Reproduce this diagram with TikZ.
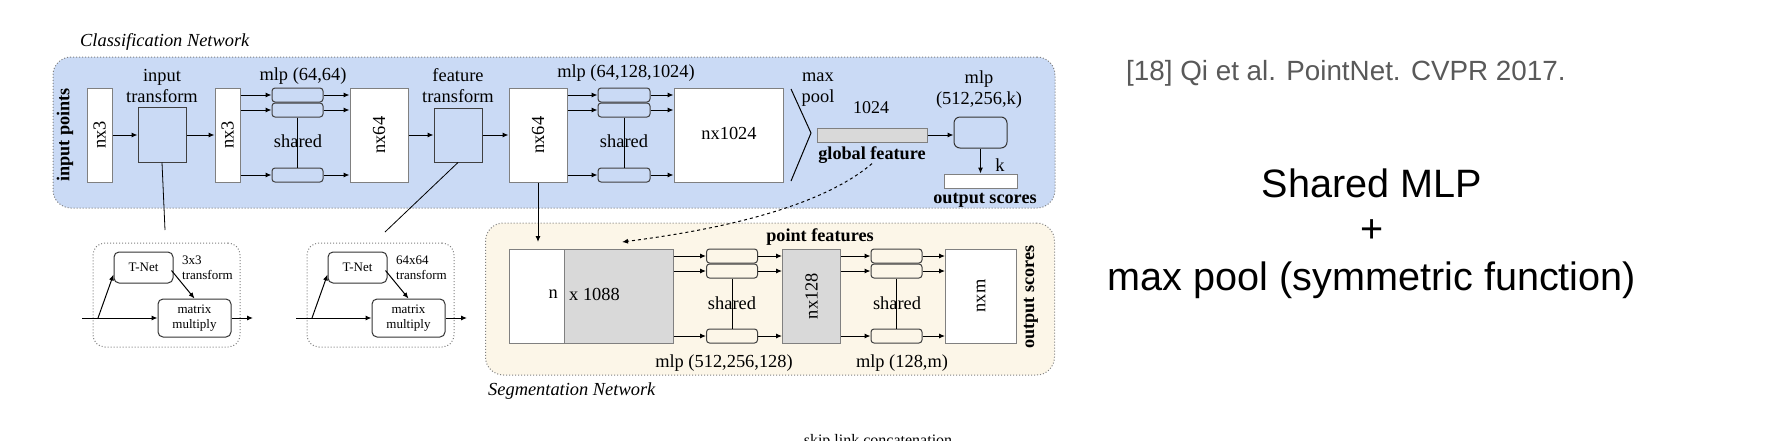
\documentclass[tikz,border=0pt]{standalone}
\usepackage{fontspec}
\setmainfont{Liberation Serif}
\newfontfamily\arialf{Liberation Sans}
\usetikzlibrary{arrows.meta,calc}
\definecolor{bgblue}{RGB}{202,218,245}
\definecolor{bgcream}{RGB}{252,246,232}
\definecolor{boxgray}{RGB}{217,217,217}
\definecolor{edgegray}{RGB}{128,128,128}
\definecolor{refgray}{RGB}{89,89,89}
\tikzset{
  fN/.style={font=\fontsize{18.4}{21}\selectfont},
  fB/.style={font=\fontsize{18.2}{21}\selectfont\bfseries},
  fS/.style={font=\fontsize{13}{14.5}\selectfont},
  lbl/.style={inner sep=0pt, fN, align=center},
  blbl/.style={inner sep=0pt, fB},
  panel/.style={draw=edgegray, dotted, line width=1pt, rounded corners=18pt, inner sep=0pt},
  blk/.style={draw=edgegray, line width=1pt, inner sep=0pt, fill=white},
  tbox/.style={draw=black!75, line width=1pt, inner sep=0pt, fill=bgblue},
  sbox/.style={draw=black!75, line width=1pt, rounded corners=3pt, inner sep=0pt, minimum height=14pt},
  rbox/.style={draw=black!80, line width=1pt, rounded corners=5pt, inner sep=0pt, fill=white, fS, align=center},
  arr/.style={-{Latex[length=6pt,width=5pt]}, line width=1pt},
  ln/.style={line width=1pt},
  bigtxt/.style={font=\arialf\fontsize{39.6}{44}\selectfont, inner sep=0pt},
}
\begin{document}
\begin{tikzpicture}[x=1pt,y=-1pt]
\useasboundingbox (0,0) rectangle (1788,440);

% ---------- Classification network ----------
\node[panel, fill=bgblue, minimum width=1002pt, minimum height=151pt] (cls) at (554,132.5) {};
\node[lbl, anchor=west, font=\fontsize{18.4}{21}\selectfont\itshape] (clstitle) at (80,42) {Classification Network};
\node[blbl, rotate=90] (inpts) at (65,135) {input points};

\node[blk, minimum width=25pt, minimum height=94pt] (n1) at (99.5,135) {};
\node[lbl, rotate=90] at (n1) {nx3};
\node[tbox, minimum width=48pt, minimum height=55pt] (it) at (162,134.5) {};
\node[lbl] (itlab) at (162,86) {input\\transform};
\node[blk, minimum width=25pt, minimum height=94pt] (n2) at (227.5,135) {};
\node[lbl, rotate=90] at (n2) {nx3};

\node[sbox, fill=bgblue, minimum width=51pt] (m1a) at (297.5,95) {};
\node[sbox, fill=bgblue, minimum width=51pt] (m1b) at (297.5,110) {};
\node[sbox, fill=bgblue, minimum width=51pt] (m1c) at (297.5,175) {};
\draw[ln] (m1b.south) -- (m1c.north);
\node[lbl] (sh1) at (298,141) {shared};
\node[lbl] (mlp1) at (303,76) {mlp (64,64)};

\node[blk, minimum width=58pt, minimum height=94pt] (n3) at (379,135) {};
\node[lbl, rotate=90] at (n3) {nx64};
\node[tbox, minimum width=48pt, minimum height=54pt] (ft) at (458,135) {};
\node[lbl] (ftlab) at (458,86) {feature\\transform};
\node[blk, minimum width=58pt, minimum height=94pt] (n4) at (538,135) {};
\node[lbl, rotate=90] at (n4) {nx64};

\node[sbox, fill=bgblue, minimum width=52pt] (m2a) at (624,95) {};
\node[sbox, fill=bgblue, minimum width=52pt] (m2b) at (624,110) {};
\node[sbox, fill=bgblue, minimum width=52pt] (m2c) at (624,175) {};
\draw[ln] (m2b.south) -- (m2c.north);
\node[lbl] (sh2) at (624,141) {shared};
\node[lbl] (mlp2) at (626,73) {mlp (64,128,1024)};

\node[blk, minimum width=109pt, minimum height=94pt] (n5) at (728.5,135) {};
\node[lbl] at (729,133) {nx1024};

\draw[ln] (791,89) -- (811,133) -- (791,181);
\node[lbl] (mplab) at (818,90) {max\\pool};
\node[lbl, font=\fontsize{18}{20}\selectfont] (dim) at (871,108) {1024};
\node[blk, fill=boxgray, minimum width=110pt, minimum height=14pt] (gf) at (872,135) {};
\node[blbl] (gftext) at (872,155) {global feature};

\node[draw=black!80, line width=1pt, rounded corners=6pt, fill=bgblue, minimum width=53pt, minimum height=31pt, inner sep=0pt] (mlp3) at (980.5,132.5) {};
\node[lbl] (mlp3lab) at (979,90) {mlp\\(512,256,k)};
\node[blk, minimum width=73pt, minimum height=14pt] (outbar) at (980.5,181) {};
\node[lbl] (klab) at (1000,165) {k};
\node[blbl] (outlab) at (985,200) {output scores};

\foreach \a/\b in {n1/it, it/n2, n3/ft, ft/n4} \draw[arr] (\a.east |- 0,135) -- (\b.west |- 0,135);
\foreach \m in {m1a,m1b,m1c} {
  \draw[arr] (n2.east |- \m.west) -- (\m.west);
  \draw[arr] (\m.east) -- (n3.west |- \m.east);
}
\foreach \m in {m2a,m2b,m2c} {
  \draw[arr] (n4.east |- \m.west) -- (\m.west);
  \draw[arr] (\m.east) -- (n5.west |- \m.east);
}
\draw[arr] (gf.east) -- (gf.east -| mlp3.west);
\draw[arr] (mlp3.south) -- (mlp3.south |- outbar.north);

% ---------- T-Nets ----------
\coordinate (tlink1) at (165,230);
\coordinate (tlink2) at (385,232);
\draw[ln, line width=0.8pt] (it.south) -- (tlink1);
\draw[ln, line width=0.8pt] (ft.south) -- (tlink2);
\foreach \i/\dx/\lab in {1/0/3x3, 2/214/64x64} {
  \begin{scope}[xshift=\dx pt]
    \node[panel, rounded corners=12pt, minimum width=147pt, minimum height=104pt] (tg\i) at (166.5,295) {};
    \node[rbox, minimum width=59pt, minimum height=31pt] (tn\i) at (143.5,267.5) {T-Net};
    \node[fS, anchor=west, inner sep=0pt, align=left] (tl\i) at (182,268) {\lab\\transform};
    \node[rbox, minimum width=73pt, minimum height=38pt] (mm\i) at (194.5,318) {matrix\\multiply};
    \coordinate (tin\i) at (82,318);
    \coordinate (tbr\i) at (98,318);
    \coordinate (tout\i) at (253,318);
    \draw[arr] (tin\i) -- (mm\i.west);
    \draw[arr] (mm\i.east) -- (tout\i);
    \draw[arr] (tbr\i) -- ($(tn\i.south west)+(0,-9)$);
    \draw[arr] ($(tn\i.east)+(-2,3)$) -- (mm\i.north);
  \end{scope}
}

% ---------- Segmentation network ----------
\node[panel, fill=bgcream, minimum width=569pt, minimum height=152pt] (seg) at (770,299) {};
\node[lbl, anchor=west, font=\fontsize{18.4}{21}\selectfont\itshape] (segtitle) at (488,391) {Segmentation Network};

\node[blk, minimum width=55pt, minimum height=94pt] (bigW) at (536.5,296) {};
\node[blk, fill=boxgray, minimum width=109pt, minimum height=94pt] (bigG) at (618.5,296) {};
\node[lbl, anchor=east] (nlab) at (558,294) {n};
\node[lbl, anchor=west] (xlab) at (569,294) {x 1088};
\node[blbl] (pflab) at (820,237) {point features};

\node[sbox, fill=bgcream, minimum width=51pt] (s1a) at (732,256) {};
\node[sbox, fill=bgcream, minimum width=51pt] (s1b) at (732,271) {};
\node[sbox, fill=bgcream, minimum width=51pt] (s1c) at (732,336) {};
\draw[ln] (s1b.south) -- (s1c.north);
\node[lbl] (sh3) at (732,303) {shared};

\node[blk, fill=boxgray, minimum width=58pt, minimum height=94pt] (n128) at (811.5,296) {};
\node[lbl, rotate=90] at (n128) {nx128};

\node[sbox, fill=bgcream, minimum width=51pt] (s2a) at (896.5,256) {};
\node[sbox, fill=bgcream, minimum width=51pt] (s2b) at (896.5,271) {};
\node[sbox, fill=bgcream, minimum width=51pt] (s2c) at (896.5,336) {};
\draw[ln] (s2b.south) -- (s2c.north);
\node[lbl] (sh4) at (897,303) {shared};

\node[blk, minimum width=71pt, minimum height=94pt] (nxm) at (981,296) {};
\node[lbl, rotate=90] at (nxm) {nxm};
\node[blbl, rotate=90] (seglab) at (1031,297) {output scores};

\node[lbl] (mlp4) at (724,363) {mlp (512,256,128)};
\node[lbl] (mlp5) at (902,363) {mlp (128,m)};

\foreach \m in {s1a,s1b,s1c} {
  \draw[arr] (bigG.east |- \m.west) -- (\m.west);
  \draw[arr] (\m.east) -- (n128.west |- \m.east);
}
\foreach \m in {s2a,s2b,s2c} {
  \draw[arr] (n128.east |- \m.west) -- (\m.west);
  \draw[arr] (\m.east) -- (nxm.west |- \m.east);
}

\coordinate (skipend) at (538,242);
\coordinate (gfend) at (622,242);
\draw[arr] (n4.south) -- (skipend);
\draw[arr, dashed] (gftext.south) .. controls (815,212) and (700,232) .. (gfend);

\node[inner sep=0pt, anchor=base, font=\fontsize{16}{18}\selectfont] (skiplab) at (878,445) {skip link concatenation};

% ---------- Right-hand text ----------
\node[anchor=west, inner sep=0pt, text=refgray, font=\arialf\fontsize{27.8}{32}\selectfont] (ref) at (1126,73) {[18] Qi et al. PointNet. CVPR 2017.};
\node[bigtxt] (t1) at (1372,183) {Shared MLP};
\node[bigtxt] (t2) at (1372,231) {+};
\node[bigtxt] (t3) at (1372,280) {max pool (symmetric function)};
\end{tikzpicture}
\end{document}
